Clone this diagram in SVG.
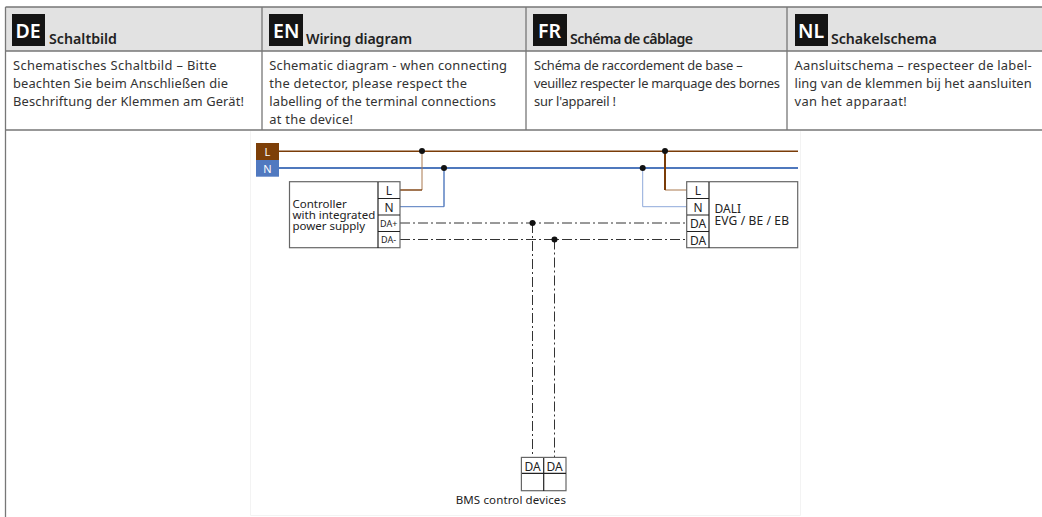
<svg xmlns="http://www.w3.org/2000/svg" width="1042" height="517" viewBox="0 0 1042 517">
<style>
text{font-family:"Noto Sans","Liberation Sans",sans-serif;fill:#333}
.hd{font-size:14.2px;font-weight:600;fill:#222}
.tag{font-size:19.5px;font-weight:600;fill:#fff}
.b{font-size:12.9px}
.t{font-size:11.5px;fill:#222}
.s{font-size:9px;fill:#222}
.lb{font-size:12px;fill:#222}
.grid{stroke:#777;stroke-width:1.300;fill:none}
.box{fill:#fff;stroke:#666;stroke-width:1.200}
.sep{stroke:#222;stroke-width:1.200;fill:none}
.br{stroke:#7a3c08;fill:none}
.bl{stroke:#4f78bd;fill:none}
.da{stroke:#333;stroke-width:1;fill:none;stroke-dasharray:10 3 2 3}
</style>
<g id="table">
<rect x="5" y="7" width="1037" height="44" fill="#e2e2e2"/>
<path d="M250.500 131V515.500H800.500V131" fill="none" stroke="#f3f3f3"/>
<path class="grid" d="M5.500 7H1042M5.500 51H1042M5.500 130H1042M5.500 7V517M262 7V130M526 7V130M787 7V130"/>
</g>
<g id="de"><rect x="12" y="14" width="33" height="32" fill="#141414"/><text class="tag" x="15.500" y="38">DE</text><text class="hd" x="49" y="44" textLength="68">Schaltbild</text>
<text class="b" x="13" y="70" textLength="203.500">Schematisches Schaltbild – Bitte</text><text class="b" x="13" y="88" textLength="215">beachten Sie beim Anschließen die</text><text class="b" x="13" y="106" textLength="231">Beschriftung der Klemmen am Gerät!</text></g>
<g id="en"><rect x="269" y="14" width="34" height="32" fill="#141414"/><text class="tag" x="273" y="38">EN</text><text class="hd" x="306" y="44" textLength="106">Wiring diagram</text>
<text class="b" x="269.300" y="70" textLength="237.700">Schematic diagram - when connecting</text><text class="b" x="269.300" y="88" textLength="197.700">the detector, please respect the</text><text class="b" x="269.300" y="106" textLength="226.700">labelling of the terminal connections</text><text class="b" x="269.300" y="124" textLength="83.700">at the device!</text></g>
<g id="fr"><rect x="533" y="14" width="34" height="32" fill="#141414"/><text class="tag" x="538" y="38">FR</text><text class="hd" x="570" y="44" textLength="123">Schéma de câblage</text>
<text class="b" x="534" y="70" textLength="208.700">Schéma de raccordement de base –</text><text class="b" x="534" y="88" textLength="246">veuillez respecter le marquage des bornes</text><text class="b" x="534" y="106" textLength="82">sur l'appareil !</text></g>
<g id="nl"><rect x="795" y="14" width="33" height="32" fill="#141414"/><text class="tag" x="798" y="38">NL</text><text class="hd" x="831" y="44" textLength="105.700">Schakelschema</text>
<text class="b" x="794.500" y="70" textLength="237.200">Aansluitschema – respecteer de label-</text><text class="b" x="794.500" y="88" textLength="237.200">ling van de klemmen bij het aansluiten</text><text class="b" x="794.500" y="106" textLength="112.200">van het apparaat!</text></g>
<g id="connectors">
<path class="br" stroke-width="1.400" d="M279 151.300H798"/>
<path class="bl" stroke-width="1.800" d="M279 168H798"/>
<path stroke="#a9794f" fill="none" d="M422 190V151"/>
<path class="br" stroke-width="1.400" d="M400 190H422"/>
<path class="bl" stroke-width="1" d="M400 206.700H444"/>
<path class="bl" stroke-width="1.400" d="M444 206.700V168"/>
<path stroke="#a9794f" fill="none" d="M687 190H665"/>
<path class="br" stroke-width="2" d="M665 190V151"/>
<path stroke="#8fa9da" fill="none" d="M687 206.700H642.700V168"/>
<path class="da" d="M400 223H687"/>
<path class="da" d="M400 239.500H687"/>
<path class="da" d="M532.500 223V458"/>
<path class="da" d="M554.500 239.500V458"/>
<circle cx="422" cy="151" r="3" fill="#111"/><circle cx="444" cy="168" r="3" fill="#111"/><circle cx="642.700" cy="168" r="3" fill="#111"/><circle cx="665" cy="151" r="3" fill="#111"/><circle cx="532.500" cy="223" r="3" fill="#111"/><circle cx="554.500" cy="239.500" r="3" fill="#111"/>
</g>
<g id="mains"><rect x="256" y="143" width="23" height="17" fill="#7d3f08"/><rect x="256" y="160" width="23" height="16.700" fill="#5079c0"/>
<text x="267.500" y="156" text-anchor="middle" font-size="11" style="fill:#fff">L</text><text x="267.500" y="172.500" text-anchor="middle" font-size="11" style="fill:#fff">N</text></g>
<g id="controller"><rect class="box" x="289.500" y="181.700" width="110.500" height="66"/><path class="sep" d="M378 182V248M378 198.500H400M378 215H400M378 231.500H400"/>
<text class="t" x="292.500" y="208">Controller</text><text class="t" x="292.500" y="219">with integrated</text><text class="t" x="292.500" y="230">power supply</text>
<text class="lb" x="389" y="195" text-anchor="middle">L</text><text class="lb" x="389" y="211.500" text-anchor="middle">N</text><text class="s" x="380" y="226.500">DA+</text><text class="s" x="381" y="243">DA-</text></g>
<g id="dali"><rect class="box" x="686.700" y="181.700" width="111" height="66"/><path class="sep" d="M709 182V248M687 198.500H709M687 215H709M687 231.500H709"/>
<text class="lb" x="698" y="195" text-anchor="middle">L</text><text class="lb" x="698" y="211.500" text-anchor="middle">N</text><text class="lb" x="698" y="228" text-anchor="middle">DA</text><text class="lb" x="698" y="244.500" text-anchor="middle">DA</text>
<text class="t" x="714.500" y="213" style="font-size:12px">DALI</text><text class="t" x="714.500" y="224.500" style="font-size:12px" textLength="74.500">EVG / BE / EB</text></g>
<g id="bms"><rect class="box" x="521.400" y="457.400" width="44.600" height="33.300"/><path class="sep" d="M543.700 458V491M522 473.400H566"/>
<text class="lb" x="532.500" y="471" text-anchor="middle">DA</text><text class="lb" x="554.700" y="471" text-anchor="middle">DA</text><text class="t" x="455.700" y="504" textLength="110.300">BMS control devices</text></g>
</svg>
